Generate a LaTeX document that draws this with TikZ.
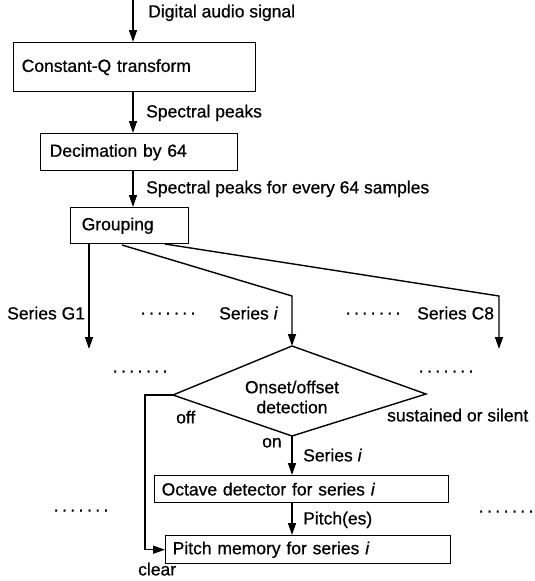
\documentclass[tikz,border=0pt]{standalone}
\usepackage{fontspec}
\setmainfont{Liberation Sans}[FakeBold=0.6]
\usetikzlibrary{arrows.meta}
\newcommand{\dotrow}{·\kern2.5pt·\kern2.5pt·\kern2.5pt·\kern2.5pt·\kern2.5pt·\kern2.5pt·}
\begin{document}
\begin{tikzpicture}[x=1pt,y=-1pt,
  every node/.style={font=\fontsize{17.5}{20}\selectfont},
  box/.style={draw,line width=1.4pt,rectangle,anchor=north west,align=left,inner ysep=0pt},
  arr/.style={line width=1.4pt,-{Triangle[length=12pt,width=8pt]}},
  ln/.style={line width=1.4pt},
  lbl/.style={anchor=west,inner sep=0pt,text height=12.5pt,text depth=3.7pt},
  ctr/.style={inner sep=0pt,align=center}]
\useasboundingbox (0,0) rectangle (535,581);
% boxes
\node[box,minimum width=242pt,minimum height=49pt,text width=226pt,inner xsep=8pt] (cq) at (13,42) {Constant-Q transform};
\node[box,minimum width=197pt,minimum height=37pt,text width=179pt,inner xsep=9pt] (dec) at (40,133) {Decimation by 64};
\node[box,minimum width=118pt,minimum height=36pt,text width=96pt,inner xsep=11pt] (grp) at (70,207) {Grouping};
\node[box,minimum width=294pt,minimum height=27pt,text width=280pt,inner xsep=7pt] (oct) at (154,475) {Octave detector for series \textit{i}};
\node[box,minimum width=285pt,minimum height=28pt,text width=271pt,inner xsep=7pt] (pm) at (165,535) {Pitch memory for series \textit{i}};
% diamond
\coordinate (dT) at (292,346);
\coordinate (dR) at (426,394);
\coordinate (dB) at (292,436);
\coordinate (dL) at (173,395);
\draw[ln] (dT) -- (dR) -- (dB) -- (dL) -- cycle;
\node[ctr] (dtext) at (292,397) {Onset/offset\\detection};
% top chain
\coordinate (in) at (133,0);
\draw[arr] (in) -- (in |- cq.north);
\draw[arr] (in |- cq.south) -- (in |- dec.north);
\draw[arr] (in |- dec.south) -- (in |- grp.north);
% series
\coordinate (sG1) at (89,349);
\coordinate (mS) at (122,245);
\coordinate (mC) at (292,296);
\coordinate (rS) at (165,244);
\coordinate (rC) at (499,296);
\coordinate (sC8) at (499,349);
\draw[arr] (sG1 |- grp.south) -- (sG1);
\draw[arr] (mS) -- (mC) -- (dT);
\draw[arr] (rS) -- (rC) -- (sC8);
% detection outputs
\draw[arr] (dB) -- (dB |- oct.north);
\draw[arr] (dB |- oct.south) -- (dB |- pm.north);
\coordinate (offc) at (145,395);
\draw[arr] (dL) -- (offc) |- (pm.west);
% labels
\node[lbl] (l1) at (148,13) {Digital audio signal};
\node[lbl] (l2) at (146,113) {Spectral peaks};
\node[lbl] (l3) at (146,189) {Spectral peaks for every 64 samples};
\node[lbl] (l4) at (7,315) {Series G1};
\node[lbl] (d1) at (140,314) {\dotrow};
\node[lbl] (l5) at (219,315) {Series \textit{i}};
\node[lbl] (d2) at (345,314) {\dotrow};
\node[lbl] (l6) at (417,315) {Series C8};
\node[lbl] (d3) at (112,372) {\dotrow};
\node[lbl] (d4) at (418,372) {\dotrow};
\node[lbl] (l7) at (176,419) {off};
\node[lbl] (l8) at (387,417) {sustained or silent};
\node[lbl] (l9) at (262,443) {on};
\node[lbl] (l10) at (303,457) {Series \textit{i}};
\node[lbl] (l11) at (303,520) {Pitch(es)};
\node[lbl] (l12) at (138,571) {clear};
\node[lbl] (d5) at (53,511) {\dotrow};
\node[lbl] (d6) at (478,512) {\dotrow};
\end{tikzpicture}
\end{document}
